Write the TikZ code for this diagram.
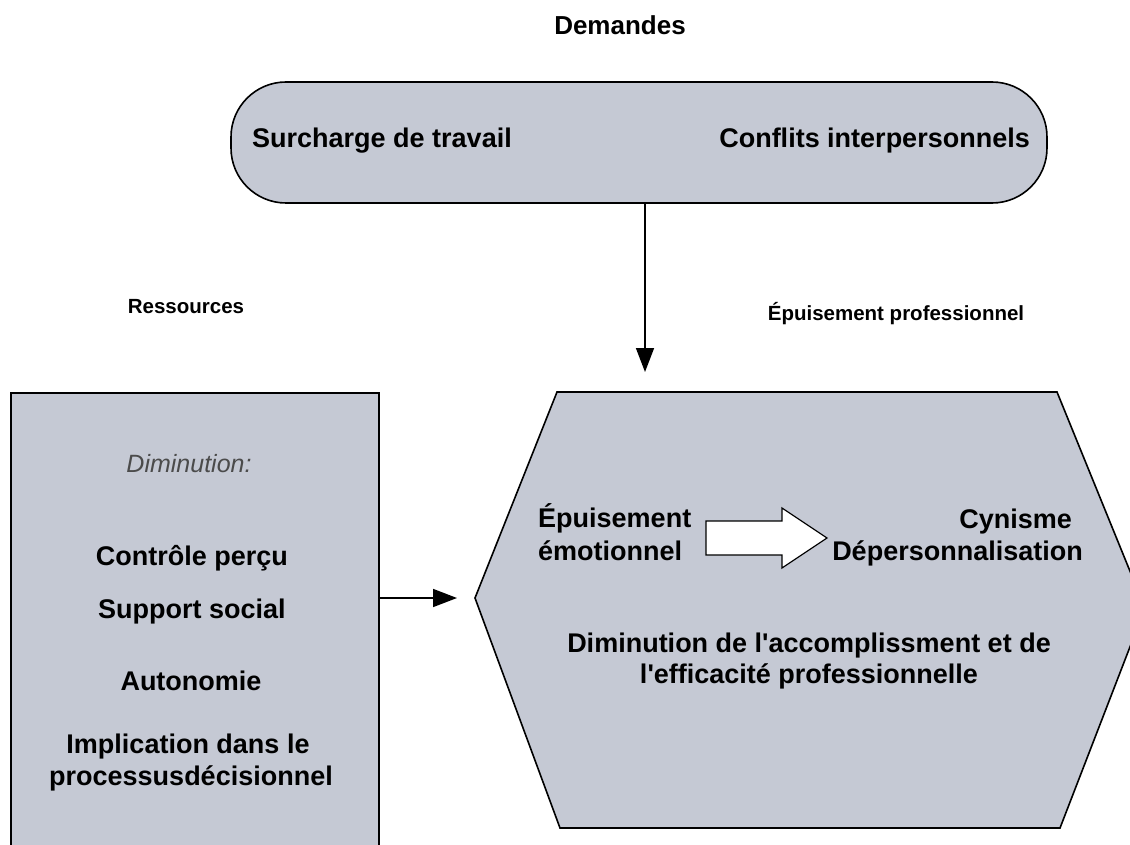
\documentclass[tikz,border=0pt]{standalone}
\usepackage{fontspec}
\setmainfont{Liberation Sans}
\usetikzlibrary{arrows.meta}
\definecolor{panel}{RGB}{197,201,212}
\definecolor{note}{RGB}{75,75,75}
\begin{document}
\begin{tikzpicture}[x=1pt,y=-1pt,
  panelbox/.style={draw=black, line width=1.6pt, fill=panel},
  heading/.style={font=\bfseries\fontsize{20.5}{25}\selectfont, inner sep=0pt},
  item/.style={font=\bfseries\fontsize{27}{32}\selectfont, inner sep=0pt},
  link/.style={line width=1.6pt, -{Triangle[length=24pt,width=18pt]}}]
\useasboundingbox (0,0) rectangle (1130,845);
\fill[white] (0,0) rectangle (1130,845);
\begin{scope}
\clip (0,0) rectangle (1130,845);

% titles
\node[heading, font=\bfseries\fontsize{26}{30}\selectfont, anchor=base] (tdem) at (620,35) {Demandes};
\node[heading, anchor=base] (tres) at (186,313) {Ressources};
\node[heading, anchor=base] (tep) at (896,320) {Épuisement professionnel};

% demands box
\node[panelbox, rounded corners=55pt, minimum width=816pt, minimum height=121pt, inner sep=0pt] (dem) at (639,142.5) {};
\node[item, anchor=base west] (surch) at (252,148) {Surcharge de travail};
\node[item, anchor=base east] (confl) at (1030,148) {Conflits interpersonnels};

% demands lead to burnout
\coordinate (downend) at (645,372);
\draw[link] (dem.south -| downend) -- (downend);

% resources box, running off the bottom edge
\node[panelbox, minimum width=368pt, minimum height=470pt, inner sep=0pt, anchor=north west] (res) at (10,392) {};
\node[font=\itshape\fontsize{25}{30}\selectfont, text=note, anchor=base, inner sep=0pt] (dimin) at (189,472) {Diminution:};
\node[item, anchor=base] (ctrl) at (192,565) {Contrôle perçu};
\node[item, anchor=base] (supp) at (192,618) {Support social};
\node[item, anchor=base] (auto) at (191,690) {Autonomie};
\node[item, anchor=base] (impl1) at (188,753) {Implication dans le};
\node[item, anchor=base] (impl2) at (191,785) {processusdécisionnel};

% burnout hexagon
\coordinate (hexw) at (475,598);
\draw[panelbox] (557,392) -- (1057,392) -- (1145,608) -- (1060,828) -- (560,828) -- (hexw) -- cycle;
\draw[link, shorten >=18pt] (res.east |- hexw) -- (hexw);

% block arrow between the two first dimensions
\draw[fill=white, line width=1.2pt] (706,521) -- (782,521) -- (782,508) -- (827,538) -- (782,568) -- (782,555) -- (706,555) -- cycle;

\node[item, anchor=base west] (emo1) at (538,527) {Épuisement};
\node[item, anchor=base west] (emo2) at (538,560) {émotionnel};
\node[item, anchor=base east] (cyn) at (1072,528) {Cynisme};
\node[item, anchor=base east] (dep) at (1083,560) {Dépersonnalisation};
\node[item, anchor=base] (acc1) at (809,652) {Diminution de l\textquotesingle accomplissment et de};
\node[item, anchor=base] (acc2) at (809,683) {l\textquotesingle efficacité professionnelle};
\end{scope}
\end{tikzpicture}
\end{document}
